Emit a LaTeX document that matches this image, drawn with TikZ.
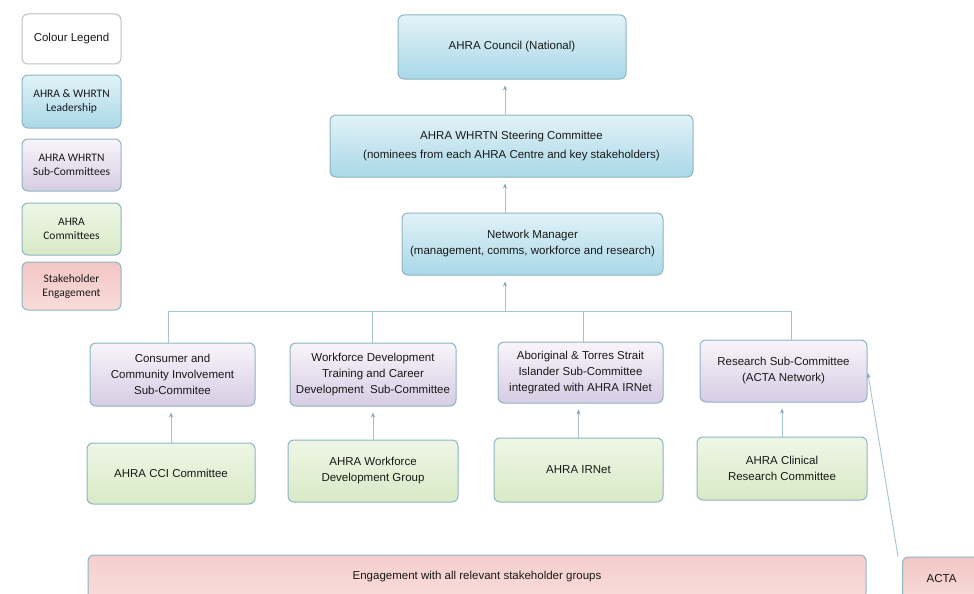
\documentclass[tikz,border=0pt]{standalone}
\usepackage{fontspec}
\setmainfont{Liberation Sans}
\newfontfamily\legfont{Carlito}
\usetikzlibrary{arrows.meta}
\definecolor{leadtop}{HTML}{E2F2F7}
\definecolor{leadbot}{HTML}{A9D8E8}
\definecolor{subtop}{HTML}{F8F5FA}
\definecolor{subbot}{HTML}{D6CCE4}
\definecolor{comtop}{HTML}{EEF6E6}
\definecolor{combot}{HTML}{D9EAC6}
\definecolor{stktop}{HTML}{F3C6C4}
\definecolor{stkbot}{HTML}{F8DCDA}
\definecolor{boxline}{HTML}{8DB4C2}
\definecolor{linkcol}{HTML}{A7C3CE}
\definecolor{tipcol}{HTML}{7FA6B8}

\tikzset{
	box/.style={draw=boxline, line width=1pt, rounded corners=6pt, align=center, inner sep=0pt, text=black!90, font=\fontsize{11.5}{16}\selectfont},
	lead/.style={box, top color=leadtop, bottom color=leadbot},
	subc/.style={box, top color=subtop, bottom color=subbot},
	comm/.style={box, top color=comtop, bottom color=combot},
	stake/.style={box, top color=stktop, bottom color=stkbot},
	legbox/.style={minimum width=99, font=\legfont\fontsize{11.5}{14}\selectfont},
	link/.style={draw=linkcol, line width=0.9pt},
	arr/.style={link, shorten >=6pt, -{Stealth[length=5pt,width=4pt,color=tipcol]}},
}

\begin{document}
\begin{tikzpicture}[x=1pt, y=-1pt]
	\useasboundingbox (0,0) rectangle (974,594);
	\clip (0,0) rectangle (974,594);
	% legend
	\node[box, fill=white, draw=black!25, minimum width=99, minimum height=50] (legend) at (71.5,39) {Colour Legend};
	\node[lead, legbox, minimum height=53] (leglead) at (71.5,101.5) {AHRA \& WHRTN\\Leadership};
	\node[subc, legbox, minimum height=52] (legsub) at (71.5,165) {AHRA WHRTN\\Sub-Committees};
	\node[comm, legbox, minimum height=52] (legcom) at (71.5,229) {AHRA\\Committees};
	\node[stake, legbox, minimum height=48] (legstake) at (71.5,286) {Stakeholder\\Engagement};

	\node[lead, minimum width=228, minimum height=64] (council) at (512,47) {AHRA Council (National)};
	\node[lead, minimum width=363, minimum height=62, font=\fontsize{11.5}{19}\selectfont] (steer) at (511.5,146) {AHRA WHRTN Steering Committee\\(nominees from each AHRA Centre and key stakeholders)};
	\node[lead, minimum width=261, minimum height=62] (nm) at (532.5,244) {Network Manager\\(management, comms, workforce and research)};

	\node[subc, minimum width=165, minimum height=63] (ccisub) at (172.5,374.5) {Consumer and\\Community Involvement\\Sub-Commitee};
	\node[subc, minimum width=166, minimum height=63] (wfdsub) at (373,374.5) {Workforce Development\\Training and Career\\Development\ \ Sub-Committee};
	\node[subc, minimum width=165, minimum height=61] (absub) at (580.5,372.5) {Aboriginal \& Torres Strait\\Islander Sub-Committee\\integrated with AHRA IRNet};
	\node[subc, minimum width=167, minimum height=62] (ressub) at (783.5,371) {Research Sub-Committee\\(ACTA Network)};

	\node[comm, minimum width=168, minimum height=61] (cci) at (171,473.5) {AHRA CCI Committee};
	\node[comm, minimum width=170, minimum height=62] (wfd) at (373,471) {AHRA Workforce\\Development Group};
	\node[comm, minimum width=169, minimum height=64] (irnet) at (578.5,470) {AHRA IRNet};
	\node[comm, minimum width=170, minimum height=63] (clin) at (782,468.5) {AHRA Clinical\\Research Committee};

	\node[stake, minimum width=778, minimum height=44, top color=stktop!85!white] (engage) at (477,577) {Engagement with all relevant stakeholder groups};
	\node[stake, minimum width=78, minimum height=43] (acta) at (941.5,578.5) {ACTA};

	% links
	\coordinate (trunk) at (505,311);
	\draw[arr] (trunk) -- (trunk |- nm.south);
	\draw[arr] (nm.north -| trunk) -- (trunk |- steer.south);
	\draw[arr] (steer.north -| trunk) -- (trunk |- council.south);
	\draw[link] (168,311) -- (791,311);
	\foreach \n/\x in {ccisub/168, wfdsub/372, absub/583, ressub/791}
	{\coordinate (d\n) at (\x,311);
	\draw[link] (d\n) -- (d\n |- \n.north);}
	\foreach \a/\b in {cci/ccisub, wfd/wfdsub, irnet/absub, clin/ressub}
	{\draw[arr] (\a.north) -- (\a.north |- \b.south);}
	\draw[arr, shorten >=2pt] ([xshift=-4pt]acta.north west) -- (ressub.east);
\end{tikzpicture}
\end{document}
